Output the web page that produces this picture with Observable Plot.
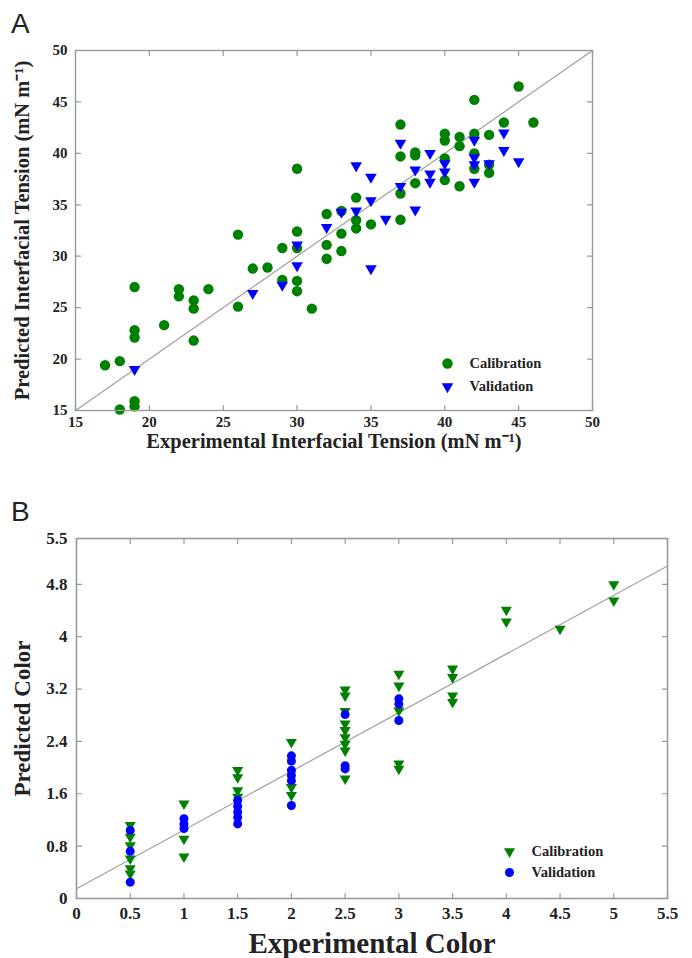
<!DOCTYPE html>
<html><head><meta charset="utf-8">
<script src="https://cdn.jsdelivr.net/npm/d3@7"></script>
<script src="https://cdn.jsdelivr.net/npm/@observablehq/plot@0.6"></script>
<style>
body{margin:0;background:#fff;}
#wrap{position:relative;width:692px;height:958px;overflow:hidden;background:#fff;}
.lbl{position:absolute;font-family:"Liberation Sans",Arial,sans-serif;font-size:28px;line-height:1;color:#222;}
#pa{position:absolute;left:0;top:0;}
#pb{position:absolute;left:0;top:480px;}
</style></head><body>
<div id="wrap">
<div id="pa"></div><div id="pb"></div>
<div class="lbl" style="left:11px;top:10px">A</div>
<div class="lbl" style="left:11px;top:498px">B</div>
</div>
<script>
// ---------- Panel A data ----------
const calA_x = [17,18,18,19,19,19,19,19,21,22,22,23,23,23,24,26,26,27,28,29,29,30,30,30,30,30,31,32,32,32,33,33,33,34,34,34,35,37,37,37,37,38,38,38,40,40,40,40,41,41,41,42,42,42,42,43,43,43,44,45,46];
const calA_y = [19.4,19.8,15.1,27.0,22.8,22.1,15.9,15.4,23.3,26.8,26.1,25.7,24.9,21.8,26.8,32.1,25.1,28.8,28.9,30.8,27.7,38.5,32.4,30.8,27.6,26.6,24.9,34.1,31.1,29.75,34.4,32.2,30.5,35.7,33.5,32.7,33.1,42.8,39.7,36.1,33.55,40.1,39.8,37.1,41.9,41.25,39.5,37.4,41.6,40.7,36.8,45.2,41.9,40.0,38.5,41.8,38.9,38.1,43.0,46.5,43.0];
const valA_x = [19,27,29,30,30,32,33,34,34,35,35,35,36,37,37,38,38,39,39,39,40,40,42,42,42,42,43,44,44,45];
const valA_y = [19.0,26.4,27.2,31.1,29.1,32.8,34.3,38.8,34.4,37.7,35.4,28.8,33.6,41.0,36.8,38.4,34.5,40.0,38.0,37.2,39.0,38.2,41.3,39.6,38.9,37.2,39.0,42.0,40.3,39.2];
const fitA_x = [15, 50];
const fitA_y = [15, 50];
const ticksA = [15,20,25,30,35,40,45,50];
const titleAx = "Experimental Interfacial Tension (mN m\u207B\u00B9)";
const titleAy = "Predicted Interfacial Tension (mN m\u207B\u00B9)";

// ---------- Panel B data ----------
const calB_x = [0.5,0.5,0.5,0.5,0.5,0.5, 1,1,1, 1.5,1.5,1.5,1.5, 2,2,2, 2.5,2.5,2.5,2.5,2.5,2.5,2.5,2.5,2.5, 3,3,3,3,3, 3.5,3.5,3.5,3.5, 4,4, 4.5, 5,5];
const calB_y = [1.12,0.94,0.81,0.61,0.46,0.38, 1.45,0.91,0.64, 1.96,1.85,1.65,1.55, 2.39,1.70,1.58, 3.19,3.10,2.86,2.67,2.57,2.46,2.36,2.26,1.83, 3.43,3.25,2.87,2.06,1.98, 3.51,3.38,3.10,3.00, 4.41,4.23, 4.12, 4.80,4.55];
const valB_x = [0.5,0.5,0.5, 1,1,1, 1.5,1.5,1.5,1.5,1.5, 2,2,2,2,2,2, 2.5,2.5,2.5, 3,3,3];
const valB_y = [1.04,0.72,0.25, 1.22,1.14,1.07, 1.50,1.41,1.32,1.24,1.14, 2.18,2.10,1.96,1.88,1.80,1.42, 2.81,2.03,1.98, 3.05,2.97,2.72];
const fitB_x = [0, 5.5];
const fitB_y = [0.15, 5.08];
const ticksBx = [0,0.5,1,1.5,2,2.5,3,3.5,4,4.5,5,5.5];
const ticksBy = [0,0.8,1.6,2.4,3.2,4,4.8,5.5];
const titleBx = "Experimental Color";
const titleBy = "Predicted Color";
const legendLabels = ["Calibration", "Validation"];

// ---------- styling ----------
const green = "#008000", blue = "#0000ff", gray = "#9a9a9a", ink = "#222";
const serif = "'Liberation Serif','Times New Roman',serif";
const zip = (xs, ys) => xs.map((x, i) => ({x, y: ys[i]}));
const tickShape = {draw(ctx, l) { ctx.moveTo(0, 0); ctx.lineTo(0, -l); }};
const downTri = {draw(ctx, size) {
  const s = Math.sqrt(4 * size / Math.sqrt(3)), h = s * Math.sqrt(3) / 2;
  ctx.moveTo(0, 2 * h / 3); ctx.lineTo(-s / 2, -h / 3); ctx.lineTo(s / 2, -h / 3); ctx.closePath();
}};
function innerTicks(xt, yt, len) {
  const o = {length: len, anchor: "start", shape: tickShape, stroke: gray, strokeWidth: 1.2};
  return [
    Plot.vector(xt, {...o, x: d => d, frameAnchor: "bottom", rotate: 0}),
    Plot.vector(xt, {...o, x: d => d, frameAnchor: "top", rotate: 180}),
    Plot.vector(yt, {...o, y: d => d, frameAnchor: "left", rotate: 90}),
    Plot.vector(yt, {...o, y: d => d, frameAnchor: "right", rotate: -90})
  ];
}
const fmt = d => String(d);
const txt = {fontWeight: "bold", fontFamily: serif, fill: ink, textAnchor: "middle", lineAnchor: "middle"};

// ---------- Panel A ----------
const plotA = Plot.plot({
  width: 692, height: 460,
  marginTop: 50, marginBottom: 50, marginLeft: 75, marginRight: 100,
  style: {fontFamily: serif, fontWeight: "bold", color: ink, background: "transparent"},
  x: {domain: [15, 50]},
  y: {domain: [15, 50]},
  marks: [
    Plot.line(zip(fitA_x, fitA_y), {x: "x", y: "y", stroke: "#a0a0a0", strokeWidth: 1.2}),
    Plot.dot(zip(calA_x, calA_y), {x: "x", y: "y", r: 5.2, fill: green}),
    Plot.dot(zip(valA_x, valA_y), {x: "x", y: "y", r: 4.3, fill: blue, symbol: downTri}),
    Plot.frame({stroke: gray, strokeWidth: 1.4}),
    ...innerTicks(ticksA, ticksA, 5),
    Plot.axisX(ticksA, {tickSize: 0, tickPadding: 6, tickFormat: fmt, label: null, fontSize: 15, fontWeight: "bold", fontFamily: serif, fill: ink}),
    Plot.axisY(ticksA, {tickSize: 0, tickPadding: 8, tickFormat: fmt, label: null, fontSize: 15, fontWeight: "bold", fontFamily: serif, fill: ink}),
    Plot.text([titleAx], {...txt, frameAnchor: "bottom", dy: 31, fontSize: 20.5}),
    Plot.text([titleAy], {...txt, frameAnchor: "left", dx: -53, rotate: -90, fontSize: 20.5}),
    Plot.dot([legendLabels[0]], {frameAnchor: "bottom-right", dx: -145, dy: -47, r: 5.2, fill: green}),
    Plot.dot([legendLabels[1]], {frameAnchor: "bottom-right", dx: -145, dy: -24, r: 4.3, fill: blue, symbol: downTri}),
    Plot.text([legendLabels[0]], {...txt, textAnchor: "start", frameAnchor: "bottom-right", dx: -123, dy: -47, fontSize: 14.5}),
    Plot.text([legendLabels[1]], {...txt, textAnchor: "start", frameAnchor: "bottom-right", dx: -123, dy: -24, fontSize: 14.5})
  ]
});
document.getElementById("pa").appendChild(plotA);

// ---------- Panel B ----------
const plotB = Plot.plot({
  width: 692, height: 478,
  marginTop: 58, marginBottom: 60, marginLeft: 76, marginRight: 25,
  style: {fontFamily: serif, fontWeight: "bold", color: ink, background: "transparent"},
  x: {domain: [0, 5.5]},
  y: {domain: [0, 5.5]},
  marks: [
    Plot.line(zip(fitB_x, fitB_y), {x: "x", y: "y", stroke: "#a0a0a0", strokeWidth: 1.2}),
    Plot.dot(zip(calB_x, calB_y), {x: "x", y: "y", r: 4.1, fill: green, symbol: downTri}),
    Plot.dot(zip(valB_x, valB_y), {x: "x", y: "y", r: 4.5, fill: blue}),
    Plot.frame({stroke: gray, strokeWidth: 1.6}),
    ...innerTicks(ticksBx, ticksBy, 5),
    Plot.axisX(ticksBx, {tickSize: 0, tickPadding: 8, tickFormat: fmt, label: null, fontSize: 17, fontWeight: "bold", fontFamily: serif, fill: ink}),
    Plot.axisY(ticksBy, {tickSize: 0, tickPadding: 9, tickFormat: fmt, label: null, fontSize: 17, fontWeight: "bold", fontFamily: serif, fill: ink}),
    Plot.text([titleBx], {...txt, frameAnchor: "bottom", dy: 45, fontSize: 29}),
    Plot.text([titleBy], {...txt, frameAnchor: "left", dx: -54, rotate: -90, fontSize: 23}),
    Plot.dot([legendLabels[0]], {frameAnchor: "bottom-right", dx: -158, dy: -47, r: 4.1, fill: green, symbol: downTri}),
    Plot.dot([legendLabels[1]], {frameAnchor: "bottom-right", dx: -158, dy: -26, r: 4.5, fill: blue}),
    Plot.text([legendLabels[0]], {...txt, textAnchor: "start", frameAnchor: "bottom-right", dx: -136, dy: -47, fontSize: 14.5}),
    Plot.text([legendLabels[1]], {...txt, textAnchor: "start", frameAnchor: "bottom-right", dx: -136, dy: -26, fontSize: 14.5})
  ]
});
document.getElementById("pb").appendChild(plotB);
</script>
</body></html>
